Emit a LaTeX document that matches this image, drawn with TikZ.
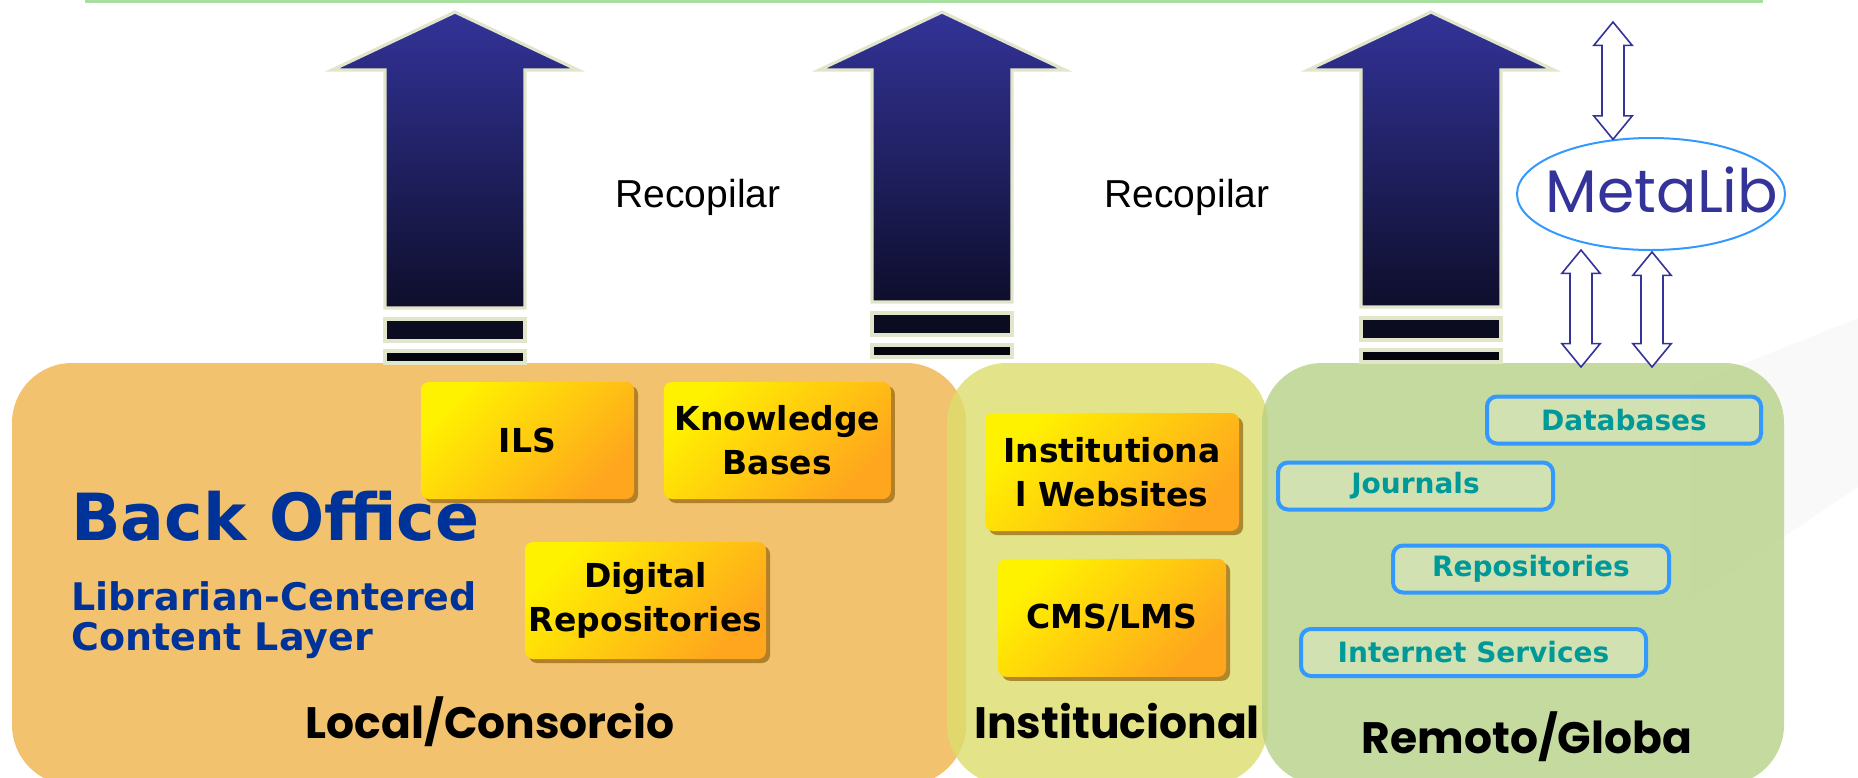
\documentclass[tikz,border=0pt]{standalone}
\usepackage{fontspec}
\setmainfont{Liberation Sans}
\newfontfamily\boxfont{DejaVu Sans}
\newfontfamily\handfont{Poppins}
\usetikzlibrary{positioning,calc,shadows,shapes.geometric}
\definecolor{arrowtop}{HTML}{333399}
\definecolor{arrowbot}{HTML}{0E0E2C}
\definecolor{arrowrim}{HTML}{E1E6CB}
\definecolor{bardark}{HTML}{0C0C20}
\definecolor{barblack}{HTML}{05050F}
\definecolor{panelorange}{HTML}{EFB34A}
\definecolor{panelyellow}{HTML}{DCDC6D}
\definecolor{panelgreen}{HTML}{B7D186}
\definecolor{boxyellow}{HTML}{FFF200}
\definecolor{boxorange}{HTML}{FFA51E}
\definecolor{boxshadow}{HTML}{9C6A10}
\definecolor{netblue}{HTML}{3399FF}
\definecolor{netteal}{HTML}{009999}
\definecolor{mlblue}{HTML}{333399}
\definecolor{officeblue}{HTML}{003399}
\definecolor{rulegreen}{HTML}{A8DFA0}
\definecolor{wedgegrey}{HTML}{F9F9FA}

% hollow two-headed vertical arrow, #1 top end, #2 bottom end
\newcommand{\dblarrow}[2]{%
  \draw[hollow] let \p1=(#1), \p2=(#2) in
    (\x1,\y1) -- (\x1+9.6pt,\y1-11.7pt) -- (\x1+5.5pt,\y1-11.7pt)
    -- (\x1+5.5pt,\y2+11.7pt) -- (\x1+9.6pt,\y2+11.7pt) -- (\x1,\y2)
    -- (\x1-9.6pt,\y2+11.7pt) -- (\x1-5.5pt,\y2+11.7pt)
    -- (\x1-5.5pt,\y1-11.7pt) -- (\x1-9.6pt,\y1-11.7pt) -- cycle;}

\begin{document}
\begin{tikzpicture}[x=0.5pt,y=-0.5pt,
  ybox/.style={rounded corners=4pt,top color=boxyellow,bottom color=boxorange,shading angle=45,
               drop shadow={shadow xshift=2pt,shadow yshift=-2pt,fill=boxshadow,opacity=0.75},
               align=center,inner sep=0pt,minimum height=58.5pt,
               font=\boxfont\bfseries\fontsize{16.5}{22}\selectfont},
  nbox/.style={draw=netblue,line width=2pt,rounded corners=5pt,fill=white,fill opacity=0.2,
               text opacity=1,text=netteal,inner sep=0pt,minimum height=23.5pt,
               font=\boxfont\bfseries\fontsize{14}{16}\selectfont},
  panel/.style={rounded corners=30pt,fill opacity=0.8},
  bigarrow/.style={draw=arrowrim,line width=1.6pt,top color=arrowtop,bottom color=arrowbot},
  bar/.style={draw=arrowrim,line width=1.6pt},
  hollow/.style={draw=mlblue,line width=0.8pt,fill=white},
  recap/.style={font=\fontsize{19.5}{23}\selectfont,anchor=base},
  place/.style={font=\handfont\bfseries\fontsize{22}{26}\selectfont,anchor=base},
  layer/.style={text=officeblue,anchor=base west,inner sep=0pt}]

  \useasboundingbox (0,0) rectangle (1858,777);
  \fill[wedgegrey] (1690,385) -- (1858,318) -- (1858,487) -- (1690,600) -- cycle;
  \draw[rulegreen,line width=1.5pt] (85,1) -- (1763,1);

  % the three layers
  \fill[panel,fill=panelorange] (12,363) rectangle (966,785);
  \fill[panel,fill=panelyellow] (947,363) rectangle (1268,785);
  \fill[panel,fill=panelgreen] (1262,363) rectangle (1784,785);

  \node[place] (local) at (490,738) {Local/Consorcio};
  \node[place] (instl) at (1117,738) {Institucional};
  \node[place] (remote) at (1527,753) {Remoto/Globa};

  \node[layer,font=\boxfont\bfseries\fontsize{32.5}{36}\selectfont] (office) at (71,540) {Back Office};
  \node[layer,font=\boxfont\bfseries\fontsize{19}{20}\selectfont] (libr) at (71,610) {Librarian-Centered};
  \node[layer,font=\boxfont\bfseries\fontsize{19}{20}\selectfont] (cont) at (71,650) {Content Layer};

  \node[ybox,minimum width=106.5pt] (ils) at (527.5,440.5) {ILS};
  \node[ybox,minimum width=113.5pt,right=14.5pt of ils] (kb) {Knowledge\\Bases};
  \node[ybox,minimum width=120.5pt] (dig) at (645.5,600.5) {Digital\\Repositories};
  \node[ybox,minimum width=127pt,minimum height=59pt] (web) at (1112,472) {Institutiona\\l Websites};
  \node[ybox,minimum width=114pt,minimum height=59pt,below=13.5pt of web] (cms) {CMS/LMS};

  \node[nbox,minimum width=137pt] (dbs) at (1624,420) {Databases};
  \node[nbox,minimum width=137.5pt] (jrn) at (1415.5,486) {Journals};
  \node[nbox,minimum width=138pt] (rep) at (1531,569) {Repositories};
  \node[nbox,minimum width=172.5pt] (inet) at (1473.5,652.5) {Internet Services};

  % gathering arrows
  \foreach \ax/\ab in {455/308,942/302,1431/307}{
    \draw[bigarrow] (\ax,12) -- (\ax+123,70) -- (\ax+70,70) -- (\ax+70,\ab)
      -- (\ax-70,\ab) -- (\ax-70,70) -- (\ax-123,70) -- cycle;
    \draw[bar,fill=bardark] (\ax-70,\ab+11) rectangle (\ax+70,\ab+33);
    \draw[bar,fill=barblack] (\ax-70,\ab+43) rectangle (\ax+70,\ab+55);
  }
  \node[recap] (rec1) at (698,207) {Recopilar};
  \node[recap] (rec2) at (1187,207) {Recopilar};

  \node[ellipse,draw=netblue,line width=1pt,minimum width=134pt,minimum height=56pt,inner sep=0pt,
        label={[text=mlblue,font=\handfont\fontsize{30}{34}\selectfont,xshift=5.5pt,yshift=2pt]center:MetaLib}]
        (ml) at (1651,194) {};
  \coordinate (mltop) at (1613,22);
  \coordinate (mlA) at (1581,250);
  \coordinate (mlB) at (1652,252);
  \coordinate (remA) at (1581,367);
  \coordinate (remB) at (1652,367);
  \dblarrow{mltop}{ml.125}
  \dblarrow{mlA}{remA}
  \dblarrow{mlB}{remB}
\end{tikzpicture}
\end{document}
